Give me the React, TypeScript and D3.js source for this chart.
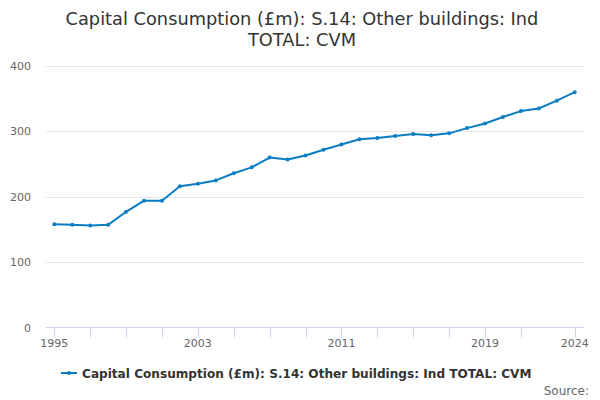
import { useEffect, useRef } from 'react';
import * as d3 from 'd3';

const years = [
  1995, 1996, 1997, 1998, 1999, 2000, 2001, 2002, 2003, 2004, 2005, 2006, 2007, 2008, 2009,
  2010, 2011, 2012, 2013, 2014, 2015, 2016, 2017, 2018, 2019, 2020, 2021, 2022, 2023, 2024,
];
const values = [
  158, 157, 156, 157, 177, 194, 194, 216, 220, 225, 236, 245, 260, 257, 263,
  272, 280, 288, 290, 293, 296, 294, 297, 305, 312, 322, 331, 335, 347, 360,
];
const xTicks = [1995, 1997, 1999, 2001, 2003, 2005, 2007, 2009, 2011, 2013, 2015, 2017, 2019, 2021, 2024];
const xLabels = [1995, 2003, 2011, 2019, 2024];
const yTicks = [0, 100, 200, 300, 400];

const titleLines = ['Capital Consumption (£m): S.14: Other buildings: Ind', 'TOTAL: CVM'];
const seriesName = 'Capital Consumption (£m): S.14: Other buildings: Ind TOTAL: CVM';

export default function App() {
  const svgRef = useRef<SVGSVGElement>(null);

  useEffect(() => {
    if (!svgRef.current) return;
    const svg = d3.select(svgRef.current);
    svg.selectAll('*').remove();

    const width = 600;
    const height = 400;
    const left = 46;
    const right = 584;
    const top = 66;
    const bottom = 327.5;
    const font = '"DejaVu Sans", sans-serif';
    const color = '#0a7dc2';

    svg.attr('width', width).attr('height', height);

    const x = d3.scaleLinear().domain([1995, 2024]).range([54.3, 574.7]);
    const y = d3.scaleLinear().domain([0, 400]).range([bottom, top]);

    // Title
    svg.append('text')
      .attr('x', width / 2)
      .attr('y', 25)
      .attr('text-anchor', 'middle')
      .attr('fill', '#333333')
      .attr('font-size', '17.8px')
      .attr('font-family', font)
      .selectAll('tspan')
      .data(titleLines)
      .join('tspan')
      .attr('x', width / 2 + 2)
      .attr('dy', (_, i) => (i === 0 ? 0 : 21))
      .text((d) => d);

    // Grid lines
    svg.append('g')
      .selectAll('line')
      .data(yTicks.filter((t) => t > 0))
      .join('line')
      .attr('x1', left)
      .attr('x2', right)
      .attr('y1', (d) => Math.round(y(d)) + 0.5)
      .attr('y2', (d) => Math.round(y(d)) + 0.5)
      .attr('stroke', '#e6e6e6')
      .attr('stroke-width', 1);

    // Y labels
    svg.append('g')
      .selectAll('text')
      .data(yTicks)
      .join('text')
      .attr('x', 31)
      .attr('y', (d) => y(d) + 4)
      .attr('text-anchor', 'end')
      .attr('fill', '#666666')
      .attr('font-size', '11px')
      .attr('font-family', font)
      .text((d) => d);

    // X axis line and ticks
    svg.append('line')
      .attr('x1', left)
      .attr('x2', right)
      .attr('y1', bottom)
      .attr('y2', bottom)
      .attr('stroke', '#ccd6eb')
      .attr('stroke-width', 1);

    svg.append('g')
      .selectAll('line')
      .data(xTicks)
      .join('line')
      .attr('x1', (d) => Math.round(x(d)) + 0.5)
      .attr('x2', (d) => Math.round(x(d)) + 0.5)
      .attr('y1', bottom)
      .attr('y2', bottom + 10)
      .attr('stroke', '#ccd6eb')
      .attr('stroke-width', 1);

    svg.append('g')
      .selectAll('text')
      .data(xLabels)
      .join('text')
      .attr('x', (d) => x(d))
      .attr('y', bottom + 19)
      .attr('text-anchor', 'middle')
      .attr('fill', '#666666')
      .attr('font-size', '11px')
      .attr('font-family', font)
      .text((d) => d);

    // Series line
    const line = d3.line<number>()
      .x((_, i) => x(years[i]))
      .y((d) => y(d));

    svg.append('path')
      .datum(values)
      .attr('d', line)
      .attr('fill', 'none')
      .attr('stroke', color)
      .attr('stroke-width', 2)
      .attr('stroke-linejoin', 'round')
      .attr('stroke-linecap', 'round');

    svg.append('g')
      .selectAll('circle')
      .data(values)
      .join('circle')
      .attr('cx', (_, i) => x(years[i]))
      .attr('cy', (d) => y(d))
      .attr('r', 2)
      .attr('fill', color);

    // Legend
    const ly = 373;
    svg.append('line')
      .attr('x1', 61)
      .attr('x2', 77)
      .attr('y1', ly)
      .attr('y2', ly)
      .attr('stroke', color)
      .attr('stroke-width', 2);
    svg.append('circle')
      .attr('cx', 69)
      .attr('cy', ly)
      .attr('r', 2)
      .attr('fill', color);
    svg.append('text')
      .attr('x', 82)
      .attr('y', ly + 4.5)
      .attr('fill', '#333333')
      .attr('font-size', '12.1px')
      .attr('font-weight', 'bold')
      .attr('font-family', font)
      .text(seriesName);

    // Credits
    svg.append('text')
      .attr('x', 589)
      .attr('y', 395)
      .attr('text-anchor', 'end')
      .attr('fill', '#666666')
      .attr('font-size', '12px')
      .attr('font-family', font)
      .text('Source:');
  }, []);

  return <svg ref={svgRef} style={{ position: 'absolute', left: 0, top: 0 }} />;
}
